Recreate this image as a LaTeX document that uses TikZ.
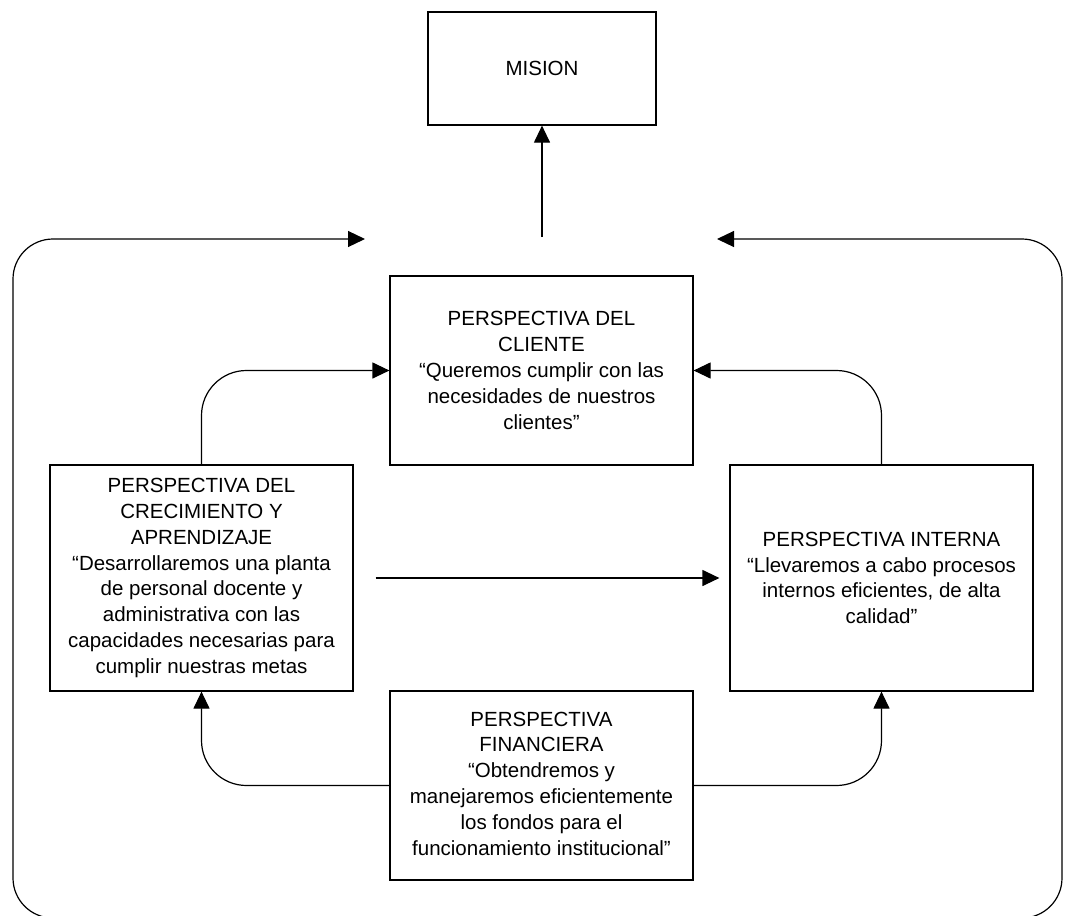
\documentclass[tikz,border=0pt]{standalone}
\usepackage{fontspec}
\setmainfont{Liberation Sans}
\usetikzlibrary{arrows.meta}
\tikzset{
  box/.style={draw, line width=1.2pt, align=center, inner sep=0pt,
    font=\fontsize{20.5}{25.8}\selectfont},
  arr/.style={line width=1.2pt, -{Triangle[length=17pt,width=16pt]}},
}
\begin{document}
\begin{tikzpicture}[x=1pt,y=-1pt]
\useasboundingbox (0,0) rectangle (1066,916);
\node[box, minimum width=228pt, minimum height=113pt] (mision) at (542,68.5) {MISION};
\node[box, minimum width=303pt, minimum height=189pt] (cliente) at (541.5,370.5)
  {PERSPECTIVA DEL\\CLIENTE\\“Queremos cumplir con las\\necesidades de nuestros\\clientes”};
\node[box, minimum width=303pt, minimum height=226pt] (crec) at (201.5,578)
  {PERSPECTIVA DEL\\CRECIMIENTO Y\\APRENDIZAJE\\“Desarrollaremos una planta\\de personal docente y\\administrativa con las\\capacidades necesarias para\\cumplir nuestras metas};
\node[box, minimum width=303pt, minimum height=226pt] (interna) at (881.5,578)
  {PERSPECTIVA INTERNA\\“Llevaremos a cabo procesos\\internos eficientes, de alta\\calidad”};
\node[box, minimum width=303pt, minimum height=189pt] (fin) at (541.5,785.5)
  {\raisebox{-5pt}{\begin{tabular}{@{}c@{}}PERSPECTIVA\\FINANCIERA\\“Obtendremos y\\manejaremos eficientemente\\los fondos para el\\funcionamiento institucional”\end{tabular}}};

\coordinate (mstart) at (542,237);
\coordinate (loopB) at (542,918);
\coordinate (lt) at (365,239);
\coordinate (rt) at (717,239);

\draw[arr] (mstart) -- (mision.south);
\draw[arr, rounded corners=40pt] (loopB) -| (13,239) -- (lt);
\draw[arr, rounded corners=40pt] (loopB) -| (1062,239) -- (rt);
\draw[arr, rounded corners=45pt] (crec.north) |- (cliente.west);
\draw[arr, rounded corners=45pt] (interna.north) |- (cliente.east);
\draw[arr] ([xshift=22pt]crec.east) -- ([xshift=-10pt]interna.west);
\draw[arr, rounded corners=45pt] (fin.west) -| (crec.south);
\draw[arr, rounded corners=45pt] (fin.east) -| (interna.south);
\end{tikzpicture}
\end{document}
